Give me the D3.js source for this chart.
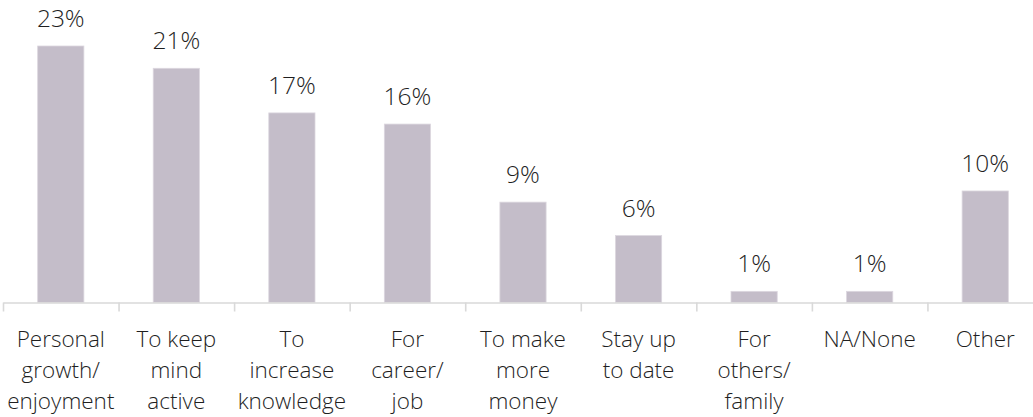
<!DOCTYPE html>
<html>
<head>
<meta charset="utf-8">
<script src="https://cdn.jsdelivr.net/npm/d3@7"></script>
<style>
  html, body { margin: 0; padding: 0; background: #fff; }
  svg { display: block; }
  text { font-family: "Open Sans", "Noto Sans", sans-serif; font-weight: 300; fill: #1f1f1f; }
</style>
</head>
<body>
<svg id="chart" width="1033" height="417"></svg>
<script>
// Reasons given, share of respondents (%)
const categories = [
  ["Personal", "growth/", "enjoyment"],
  ["To keep", "mind", "active"],
  ["To", "increase", "knowledge"],
  ["For", "career/", "job"],
  ["To make", "more", "money"],
  ["Stay up", "to date"],
  ["For", "others/", "family"],
  ["NA/None"],
  ["Other"]
];
const values = [23, 21, 17, 16, 9, 6, 1, 1, 10];
const yTicks = [0, 25];

const svg = d3.select("#chart");
const axisY = 302.5;
const left = 3, right = 1043;

const keys = categories.map((c, i) => i);

const x = d3.scaleBand()
  .domain(keys)
  .range([left, right])
  .paddingInner(0.6)
  .paddingOuter(0.3);

const y = d3.scaleLinear()
  .domain([yTicks[0], yTicks[1]])
  .range([axisY, 23.7]);

// bars
svg.append("g")
  .selectAll("rect")
  .data(values)
  .join("rect")
  .attr("x", (d, i) => x(i))
  .attr("y", d => y(d))
  .attr("width", x.bandwidth())
  .attr("height", d => y(0) - y(d))
  .attr("fill", "#C4BDC9")
  .attr("stroke", "#DCD7DF")
  .attr("stroke-width", 0.8);

// category axis with tick marks between categories
const boundary = d3.scaleLinear().domain([0, keys.length]).range([left, right]);
const axis = svg.append("g")
  .attr("transform", `translate(0,${axisY})`)
  .call(d3.axisBottom(boundary)
    .tickValues(d3.range(0, keys.length + 1))
    .tickSize(9)
    .tickSizeOuter(0)
    .tickFormat(""));
axis.select(".domain").attr("stroke", "#D9D9D9").attr("stroke-width", 1.6);
axis.selectAll(".tick line").attr("stroke", "#D9D9D9").attr("stroke-width", 1.6);

// value labels
svg.append("g")
  .selectAll("text")
  .data(values)
  .join("text")
  .attr("x", (d, i) => x(i) + x.bandwidth() / 2)
  .attr("y", d => y(d) - 19)
  .attr("text-anchor", "middle")
  .style("font-size", "24.5px")
  .text(d => d + "%");

// category labels
const lab = svg.append("g")
  .selectAll("text")
  .data(categories)
  .join("text")
  .attr("x", (d, i) => x(i) + x.bandwidth() / 2)
  .attr("y", 346.5)
  .attr("text-anchor", "middle")
  .style("font-size", "22.5px");
lab.selectAll("tspan")
  .data(d => d)
  .join("tspan")
  .attr("x", function () { return this.parentNode.getAttribute("x"); })
  .attr("dy", (d, i) => i === 0 ? 0 : 31)
  .text(d => d);
</script>
</body>
</html>
